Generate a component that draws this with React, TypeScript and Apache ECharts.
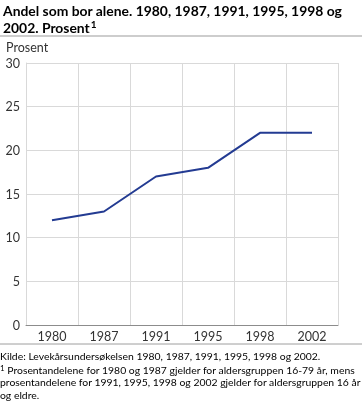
import React, { useEffect, useRef } from "react";
import * as echarts from "echarts";

const years = ["1980", "1987", "1991", "1995", "1998", "2002"];
const values = [12, 13, 17, 18, 22, 22];
const yTicks = [0, 5, 10, 15, 20, 25, 30];
const titleLine1 = "Andel som bor alene. 1980, 1987, 1991, 1995, 1998 og";
const titleLine2 = "2002. Prosent";
const yAxisName = "Prosent";
const sourceText = "Kilde: Levekårsundersøkelsen 1980, 1987, 1991, 1995, 1998 og 2002.";
const noteLines = [
  " Prosentandelene for 1980 og 1987 gjelder for aldersgruppen 16-79 år, mens",
  "prosentandelene for 1991, 1995, 1998 og 2002 gjelder for aldersgruppen 16 år",
  "og eldre.",
];

const FONT = "Lato, sans-serif";

export default function App() {
  const ref = useRef<HTMLDivElement>(null);
  useEffect(() => {
    const chart = echarts.init(ref.current!, null, { renderer: "svg" });
    chart.setOption({
      animation: false,
      grid: { left: 26, right: 24, top: 63, bottom: 86, containLabel: false },
      xAxis: {
        type: "category",
        data: years,
        boundaryGap: true,
        axisLine: { lineStyle: { color: "#8c8c8c", width: 1 } },
        axisTick: { show: false },
        axisLabel: { color: "#333", fontFamily: FONT, fontSize: 12.5, margin: 5 },
        splitLine: { show: true, interval: 0, lineStyle: { color: "#d9d9d9" } },
      },
      yAxis: {
        type: "value",
        min: yTicks[0],
        max: yTicks[yTicks.length - 1],
        interval: 5,
        axisLine: { show: true, lineStyle: { color: "#d9d9d9" } },
        axisTick: { show: false },
        axisLabel: { color: "#333", fontFamily: FONT, fontSize: 12.5, margin: 6 },
        splitLine: { lineStyle: { color: "#d9d9d9" } },
      },
      series: [
        {
          type: "line",
          data: values,
          symbol: "none",
          lineStyle: { color: "#233b92", width: 2 },
        },
      ],
      graphic: [
        {
          type: "text",
          left: 3,
          top: 3,
          style: {
            text: titleLine1,
            font: `bold 13.9px ${FONT}`,
            fill: "#000",
          },
        },
        {
          type: "text",
          left: 3,
          top: 19,
          style: {
            text: `{a|${titleLine2}}{s|1}`,
            rich: {
              a: { font: `bold 13.9px ${FONT}`, fill: "#000" },
              s: { font: `bold 10px ${FONT}`, fill: "#000", verticalAlign: "top", padding: [0, 0, 6, 1] },
            },
          },
        },
        {
          type: "line",
          shape: { x1: 0, y1: 36, x2: 362, y2: 36 },
          style: { stroke: "#bdbdbd", lineWidth: 1.5 },
        },
        {
          type: "text",
          left: 6,
          top: 41,
          style: { text: yAxisName, font: `12.5px ${FONT}`, fill: "#333" },
        },
        {
          type: "line",
          shape: { x1: 0, y1: 344, x2: 362, y2: 344 },
          style: { stroke: "#9e9e9e", lineWidth: 1 },
        },
        {
          type: "text",
          left: 0,
          top: 351,
          style: { text: sourceText, font: `10.4px ${FONT}`, fill: "#000" },
        },
        {
          type: "text",
          left: 0,
          top: 364,
          style: {
            text: `{s|1}{t|${noteLines[0]}}`,
            rich: {
              s: { font: `8px ${FONT}`, fill: "#000", verticalAlign: "top", padding: [0, 0, 4, 0] },
              t: { font: `10.4px ${FONT}`, fill: "#000" },
            },
          },
        },
        {
          type: "text",
          left: 0,
          top: 377,
          style: { text: noteLines[1], font: `10.4px ${FONT}`, fill: "#000" },
        },
        {
          type: "text",
          left: 0,
          top: 390,
          style: { text: noteLines[2], font: `10.4px ${FONT}`, fill: "#000" },
        },
      ],
    });
    return () => chart.dispose();
  }, []);
  return (
    <div
      ref={ref}
      style={{ position: "fixed", left: 0, top: 0, width: 362, height: 411 }}
    />
  );
}
